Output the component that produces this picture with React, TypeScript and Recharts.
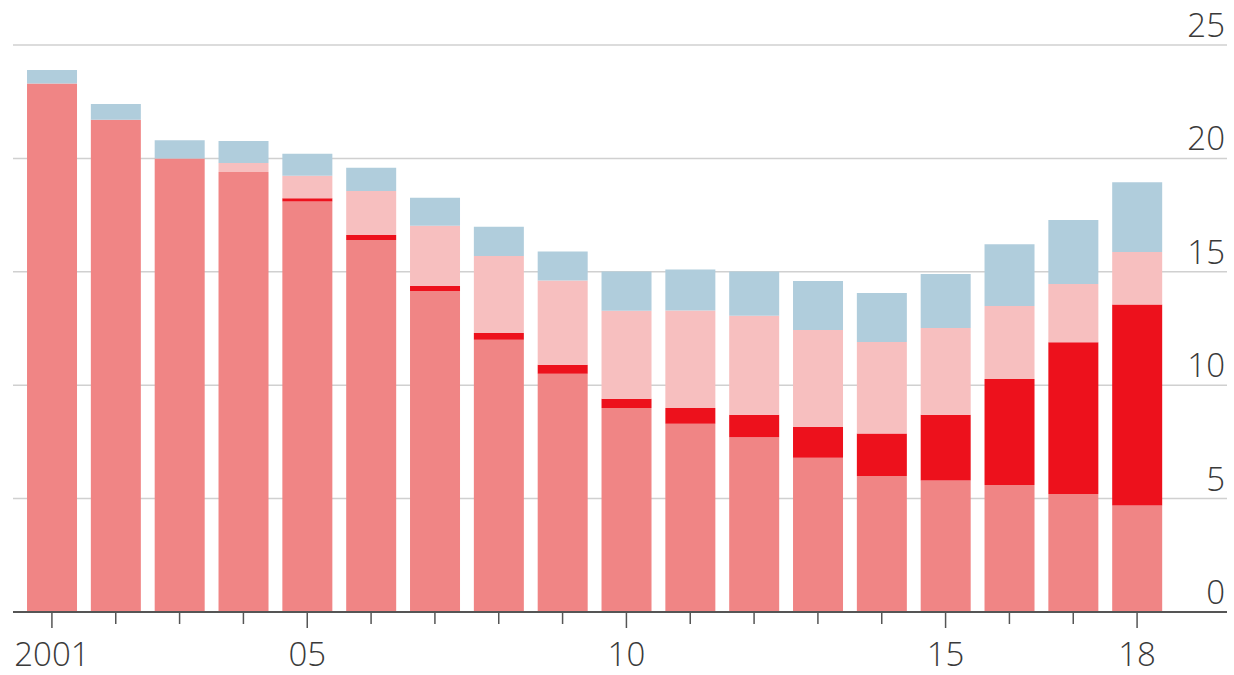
import React from 'react';
import { BarChart, Bar, XAxis, YAxis, CartesianGrid } from 'recharts';

const years = [2001, 2002, 2003, 2004, 2005, 2006, 2007, 2008, 2009, 2010, 2011, 2012, 2013, 2014, 2015, 2016, 2017, 2018];
const salmon = [23.3, 21.7, 20.0, 19.4, 18.1, 16.4, 14.15, 12.0, 10.5, 9.0, 8.3, 7.7, 6.8, 6.0, 5.8, 5.6, 5.2, 4.7];
const red = [0, 0, 0, 0, 0.14, 0.22, 0.24, 0.3, 0.4, 0.4, 0.7, 1.0, 1.37, 1.87, 2.9, 4.67, 6.69, 8.86];
const pink = [0, 0, 0, 0.4, 1.0, 1.94, 2.64, 3.4, 3.72, 3.88, 4.29, 4.36, 4.26, 4.04, 3.82, 3.22, 2.57, 2.31];
const blue = [0.6, 0.7, 0.8, 0.97, 0.96, 1.03, 1.24, 1.29, 1.28, 1.73, 1.81, 1.95, 2.16, 2.16, 2.38, 2.72, 2.82, 3.08];
const yTicks = [0, 5, 10, 15, 20, 25];
const xLabels: Record<number, string> = { 2001: '2001', 2005: '05', 2010: '10', 2015: '15', 2018: '18' };

const data = years.map((year, i) => ({
  year,
  salmon: salmon[i],
  red: red[i],
  pink: pink[i],
  blue: blue[i],
}));

const FONT = "'Open Sans', sans-serif";

const XTick = (props: any) => {
  const { x, y, payload } = props;
  const label = xLabels[payload.value];
  return (
    <g>
      <line x1={x} x2={x} y1={y} y2={y + (label ? 16 : 12)} stroke="#555" strokeWidth={1.5} />
      {label && (
        <text
          x={x}
          y={y + 54}
          textAnchor="middle"
          fontSize={33}
          fill="#3a3a3a"
          fontFamily={FONT}
          fontWeight={300}
        >
          {label}
        </text>
      )}
    </g>
  );
};

const YTick = (props: any) => {
  const { y, payload } = props;
  return (
    <text x={1225} y={y - 8} textAnchor="end" fontSize={33} fill="#3a3a3a" fontFamily={FONT} fontWeight={300}>
      {payload.value}
    </text>
  );
};

export default function App() {
  return (
    <div style={{ position: 'absolute', left: 0, top: 0, background: '#fff' }}>
      <BarChart
        width={1234}
        height={675}
        data={data}
        margin={{ top: 45, right: 6, bottom: 0, left: 13 }}
        barCategoryGap="11%"
      >
        <CartesianGrid vertical={false} stroke="#d0d0d0" strokeWidth={1.5} />
        <XAxis
          dataKey="year"
          height={63}
          padding={{ left: 7, right: 58 }}
          axisLine={{ stroke: '#555', strokeWidth: 2 }}
          tickLine={false}
          tickSize={0}
          tickMargin={0}
          interval={0}
          tick={<XTick />}
        />
        <YAxis
          orientation="right"
          width={1}
          domain={[0, 25]}
          ticks={yTicks}
          interval={0}
          axisLine={false}
          tickLine={false}
          tick={<YTick />}
        />
        <Bar dataKey="salmon" stackId="a" fill="#F08585" isAnimationActive={false} />
        <Bar dataKey="red" stackId="a" fill="#ED111C" isAnimationActive={false} />
        <Bar dataKey="pink" stackId="a" fill="#F7BFBF" isAnimationActive={false} />
        <Bar dataKey="blue" stackId="a" fill="#B0CDDC" isAnimationActive={false} />
      </BarChart>
    </div>
  );
}
